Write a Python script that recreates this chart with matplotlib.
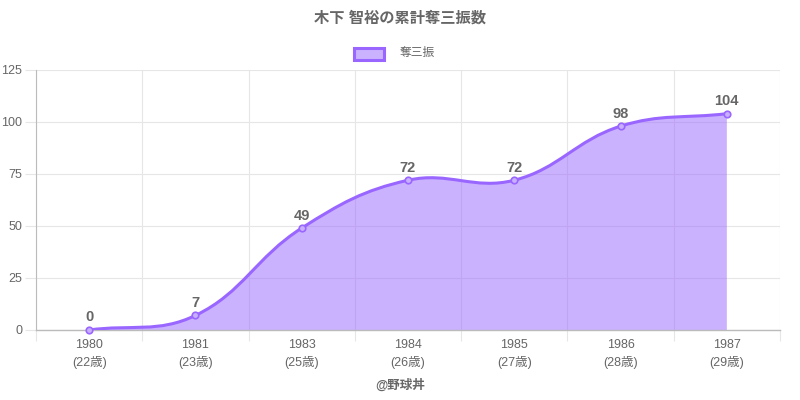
import matplotlib
matplotlib.use("Agg")
import matplotlib.pyplot as plt
from matplotlib.path import Path
from matplotlib.patches import PathPatch, Rectangle

plt.rcParams['font.family'] = ['Liberation Sans', 'Noto Sans CJK JP', 'DejaVu Sans']

title = "木下 智裕の累計奪三振数"
series_name = "奪三振"
years = ["1980", "1981", "1983", "1984", "1985", "1986", "1987"]
ages = ["22歳", "23歳", "25歳", "26歳", "27歳", "28歳", "29歳"]
values = [0, 7, 49, 72, 72, 98, 104]
footer = "@野球丼"

line_color = "#9966ff"
fill_color = (153 / 255, 102 / 255, 1.0, 0.5)
text_gray = "#666666"


def spline_path(xs, ys, sx, sy, t=0.4):
    # Chart.js style bezier with tension, distances measured in pixels
    n = len(xs)
    cps = []
    for i in range(n):
        px, py = (xs[i - 1], ys[i - 1]) if i > 0 else (xs[i], ys[i])
        nx, ny = (xs[i + 1], ys[i + 1]) if i < n - 1 else (xs[i], ys[i])
        d01 = ((xs[i] - px) ** 2 * sx ** 2 + (ys[i] - py) ** 2 * sy ** 2) ** 0.5
        d12 = ((nx - xs[i]) ** 2 * sx ** 2 + (ny - ys[i]) ** 2 * sy ** 2) ** 0.5
        tot = d01 + d12
        s01 = d01 / tot if tot else 0
        s12 = d12 / tot if tot else 0
        fa, fb = t * s01, t * s12
        cps.append(((xs[i] - fa * (nx - px), ys[i] - fa * (ny - py)),
                    (xs[i] + fb * (nx - px), ys[i] + fb * (ny - py))))
    verts = [(xs[0], ys[0])]
    codes = [Path.MOVETO]
    for i in range(1, n):
        verts += [cps[i - 1][1], cps[i][0], (xs[i], ys[i])]
        codes += [Path.CURVE4] * 3
    return verts, codes


fig = plt.figure(figsize=(8, 4), dpi=100)
ax = fig.add_axes([0.045, 0.175, 0.93, 0.65])

n = len(values)
xs = list(range(n))
ax.set_xlim(-0.5, n - 0.5)
ax.set_ylim(0, 125)

sx = 744 / n
sy = 260 / 125
verts, codes = spline_path(xs, values, sx, sy)

fill_verts = verts + [(xs[-1], 0), (xs[0], 0), (xs[0], values[0])]
fill_codes = codes + [Path.LINETO, Path.LINETO, Path.CLOSEPOLY]
ax.add_patch(PathPatch(Path(fill_verts, fill_codes), facecolor=fill_color,
                       edgecolor="none", zorder=2))
ax.add_patch(PathPatch(Path(verts, codes), facecolor="none",
                       edgecolor=line_color, lw=2.2, zorder=3))
ax.scatter(xs, values, s=22, color="#c9b0ff", edgecolor=line_color,
           linewidth=1.2, zorder=4, clip_on=False)

for x, v in zip(xs, values):
    ax.annotate(str(v), (x, v), xytext=(0, 4), textcoords="offset points",
                ha="center", va="bottom", fontsize=10.5, fontweight="bold",
                color=text_gray, zorder=5)

# grid
ax.set_yticks([0, 25, 50, 75, 100, 125])
ax.set_xticks([i - 0.5 for i in range(n + 1)], minor=False)
ax.set_xticklabels([])
ax.grid(True, color="#e6e6e6", lw=0.8, zorder=0)
ax.set_axisbelow(True)
ax.tick_params(axis="x", length=8, color="#e6e6e6", width=0.8)
ax.tick_params(axis="y", length=8, color="#e6e6e6", width=0.8,
               labelsize=9, labelcolor=text_gray, pad=2)
for i in range(n):
    ax.text(i, -0.035, years[i] + "\n(" + ages[i] + ")", transform=ax.get_xaxis_transform(),
            ha="center", va="top", fontsize=9, color=text_gray, linespacing=1.5)

for s in ["top", "right"]:
    ax.spines[s].set_visible(False)
ax.spines["left"].set_color("#bbbbbb")
ax.spines["bottom"].set_color("#bbbbbb")
ax.spines["left"].set_linewidth(0.8)
ax.spines["bottom"].set_linewidth(1.0)

fig.text(0.5, 0.955, title, ha="center", va="center", fontsize=11,
         fontweight="bold", color=text_gray)
fig.patches.append(Rectangle((354 / 800, 1 - 60 / 400), 30 / 800, 12 / 400,
                             transform=fig.transFigure, facecolor=fill_color,
                             edgecolor=line_color, lw=2.2, figure=fig))
fig.text(400 / 800, 1 - 53 / 400, series_name, ha="left", va="center",
         fontsize=8.5, color=text_gray)
fig.text(0.5, 1 - 385 / 400, footer, ha="center", va="center", fontsize=9,
         fontweight="bold", color=text_gray)

fig.savefig("out.png", dpi=100)
